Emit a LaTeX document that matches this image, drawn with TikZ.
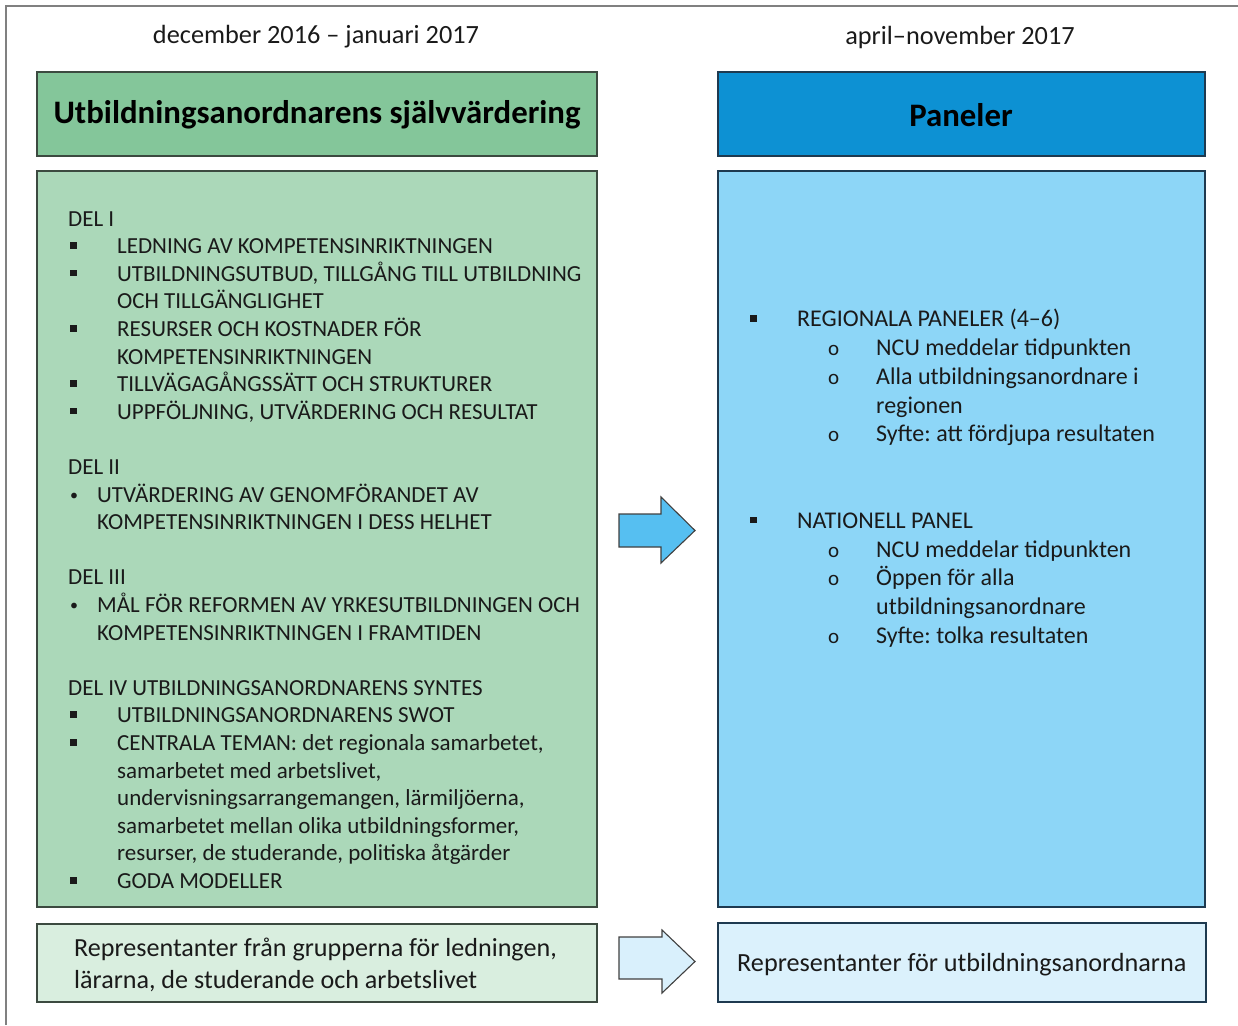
\documentclass[tikz,border=0pt]{standalone}
\usepackage{fontspec}
\setmainfont{Carlito}
\frenchspacing
\definecolor{gHead}{HTML}{84C69A}
\definecolor{gBody}{HTML}{ABD8B9}
\definecolor{gLight}{HTML}{D9EEDF}
\definecolor{bHead}{HTML}{0D91D3}
\definecolor{bBody}{HTML}{8DD6F7}
\definecolor{bLight}{HTML}{DBF1FC}
\definecolor{arrA}{HTML}{56BFF1}
\definecolor{arrB}{HTML}{D9F0FC}
\definecolor{gEdge}{HTML}{3C4A40}
\definecolor{bEdge}{HTML}{1E3A50}
\definecolor{txt}{HTML}{1A1A1A}
\newcommand{\sqb}{\makebox[49pt][l]{\hspace{2pt}\raisebox{5pt}{\rule{6.5pt}{6.5pt}}}}
\newcommand{\rdb}{\makebox[29pt][l]{\hspace{2pt}\raisebox{2pt}{\fontsize{16}{16}\selectfont •}}}
\newcommand{\cib}{\makebox[47pt][l]{\hspace{-1pt}{\fontsize{21}{21}\selectfont o}}}
\begin{document}
\begin{tikzpicture}[x=1pt,y=-1pt,
  box/.style={draw, line width=1.2pt, inner sep=0pt},
  blockarrow/.style={draw=black!75, line width=1.1pt, line join=miter},
  datelbl/.style={font=\fontsize{26.3}{30}\selectfont, text=txt, inner sep=0pt},
  headlbl/.style={font=\bfseries\fontsize{32.8}{38}\selectfont, text=black, inner sep=0pt}]
\useasboundingbox (0,0) rectangle (1238,1025);
% outer frame (top and left edges)
\draw[line width=2pt, color=black!50] (6,1025) -- (6,6) -- (1238,6);
% date labels
\node[datelbl] (dL) at (316,37) {december 2016 – januari 2017};
\node[datelbl] (dR) at (960,37) {april–november 2017};
% boxes
\draw[box, draw=gEdge, fill=gHead] (37,72) rectangle (597,156);
\node[headlbl] (gHtext) at (317,115) {Utbildningsanordnarens självvärdering};
\draw[box, draw=gEdge, fill=gBody] (37,171) rectangle (597,907);
\draw[box, draw=gEdge, fill=gLight] (37,924) rectangle (597,1002);
\draw[box, draw=bEdge, fill=bHead] (718,72) rectangle (1205,156);
\node[headlbl] (bHtext) at (961,115) {Paneler};
\draw[box, draw=bEdge, fill=bBody] (718,171) rectangle (1205,907);
\draw[box, draw=bEdge, fill=bLight] (718,923) rectangle (1206,1002);
% block arrows
\draw[blockarrow, fill=arrA] (619,514) -- (661,514) -- (661,497) -- (695,530.5) -- (661,563) -- (661,547) -- (619,547) -- cycle;
\draw[blockarrow, fill=arrB] (619,937) -- (662,937) -- (662,930) -- (695,961.5) -- (662,993) -- (662,979) -- (619,979) -- cycle;
% left list (anchor = baseline of last line)
\node[anchor=base west, inner sep=0pt, align=left, text=txt,
  font=\fontsize{23}{27.6}\selectfont] (leftlist) at (68,888.5) {%
DEL I\\
\sqb LEDNING AV KOMPETENSINRIKTNINGEN\\
\sqb UTBILDNINGSUTBUD, TILLGÅNG TILL UTBILDNING\\
\hspace*{49pt}OCH TILLGÄNGLIGHET\\
\sqb RESURSER OCH KOSTNADER FÖR\\
\hspace*{49pt}KOMPETENSINRIKTNINGEN\\
\sqb TILLVÄGAGÅNGSSÄTT OCH STRUKTURER\\
\sqb UPPFÖLJNING, UTVÄRDERING OCH RESULTAT\\
\mbox{}\\
DEL II\\
\rdb UTVÄRDERING AV GENOMFÖRANDET AV\\
\hspace*{29pt}KOMPETENSINRIKTNINGEN I DESS HELHET\\
\mbox{}\\
DEL III\\
\rdb MÅL FÖR REFORMEN AV YRKESUTBILDNINGEN OCH\\
\hspace*{29pt}KOMPETENSINRIKTNINGEN I FRAMTIDEN\\
\mbox{}\\
DEL IV UTBILDNINGSANORDNARENS SYNTES\\
\sqb UTBILDNINGSANORDNARENS SWOT\\
\sqb CENTRALA TEMAN: det regionala samarbetet,\\
\hspace*{49pt}samarbetet med arbetslivet,\\
\hspace*{49pt}undervisningsarrangemangen, lärmiljöerna,\\
\hspace*{49pt}samarbetet mellan olika utbildningsformer,\\
\hspace*{49pt}resurser, de studerande, politiska åtgärder\\
\sqb GODA MODELLER};
% right list (anchor = baseline of last line)
\node[anchor=base west, inner sep=0pt, align=left, text=txt,
  font=\fontsize{24}{28.8}\selectfont] (rightlist) at (750,643.5) {%
\makebox[47pt][l]{\hspace{0pt}\raisebox{5pt}{\rule{6.5pt}{6.5pt}}}REGIONALA PANELER (4–6)\\
\hspace*{79pt}\cib NCU meddelar tidpunkten\\
\hspace*{79pt}\cib Alla utbildningsanordnare i\\
\hspace*{126pt}regionen\\
\hspace*{79pt}\cib Syfte: att fördjupa resultaten\\
\mbox{}\\
\mbox{}\\
\makebox[47pt][l]{\hspace{0pt}\raisebox{5pt}{\rule{6.5pt}{6.5pt}}}NATIONELL PANEL\\
\hspace*{79pt}\cib NCU meddelar tidpunkten\\
\hspace*{79pt}\cib Öppen för alla\\
\hspace*{126pt}utbildningsanordnare\\
\hspace*{79pt}\cib Syfte: tolka resultaten};
% bottom texts
\node[anchor=base west, inner sep=0pt, align=left, text=txt,
  font=\fontsize{26.1}{32}\selectfont] (gBottom) at (74,988) {Representanter från grupperna för ledningen,\\lärarna, de studerande och arbetslivet};
\node[anchor=base west, inner sep=0pt, text=txt,
  font=\fontsize{26.2}{32}\selectfont] (bBottom) at (737,971) {Representanter för utbildningsanordnarna};
\end{tikzpicture}
\end{document}
